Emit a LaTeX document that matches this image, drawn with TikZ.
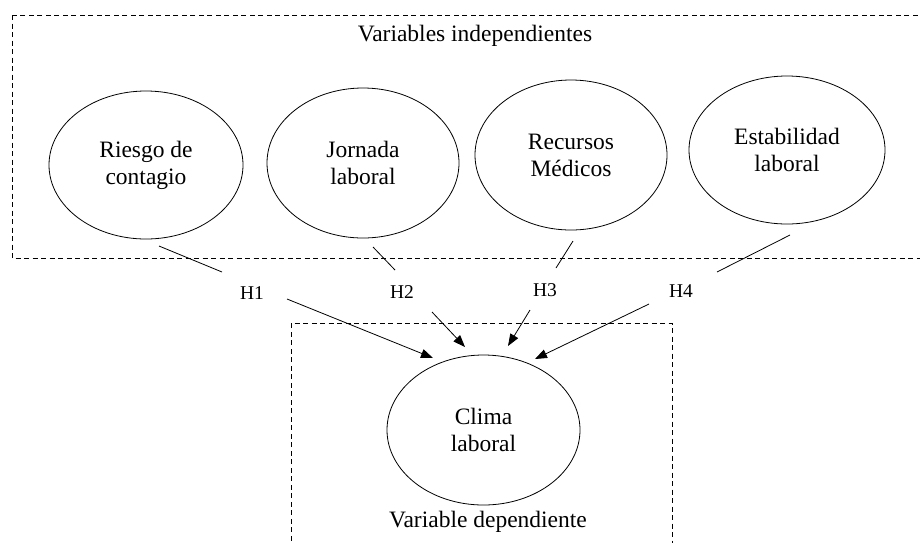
\documentclass[tikz,border=0pt]{standalone}
\usepackage{fontspec}
\setmainfont{Liberation Serif}
\usetikzlibrary{arrows.meta,shapes.geometric}
\begin{document}
\begin{tikzpicture}[x=1pt,y=-1pt,
  var/.style={draw,ellipse,line width=0.8pt,inner sep=0pt,align=center,
    font=\fontsize{23.5}{27}\selectfont},
  dashbox/.style={draw,line width=0.8pt,dash pattern=on 5pt off 3.5pt},
  hlab/.style={font=\fontsize{19.5}{22}\selectfont,inner sep=1pt},
  ttl/.style={font=\fontsize{23.5}{27}\selectfont,inner sep=0pt},
  link/.style={line width=0.8pt},
  arr/.style={line width=0.8pt,-{Triangle[length=12pt,width=9pt]}}]
\useasboundingbox (0,0) rectangle (920,542);
\clip (0,0) rectangle (920,542);
% boxes
\draw[dashbox] (12,15) rectangle (940,258);
\draw[dashbox] (291,600) -- (291,323) -- (672,323) -- (672,600);
\node[ttl] (t1) at (475,36) {Variables independientes};
\node[ttl] (t2) at (488,522) {Variable dependiente};
% ellipses
\node[var,minimum width=194pt,minimum height=148pt] (e1) at (146,165) {Riesgo de\\contagio};
\node[var,minimum width=192pt,minimum height=150pt] (e2) at (363,163) {Jornada\\laboral};
\node[var,minimum width=192pt,minimum height=150pt] (e3) at (571,155) {Recursos\\Médicos};
\node[var,minimum width=196pt,minimum height=148pt] (e4) at (787,150) {Estabilidad\\laboral};
\node[var,minimum width=193pt,minimum height=150pt] (c) at (483.5,430) {Clima\\laboral};
% H labels
\node[hlab] (h1) at (252,293) {H1};
\node[hlab] (h2) at (402,292) {H2};
\node[hlab] (h3) at (545,290) {H3};
\node[hlab] (h4) at (681,291) {H4};
% line ends
\coordinate (a1) at (159,246); \coordinate (b1) at (222,272);
\coordinate (a2) at (373,247); \coordinate (b2) at (395,270);
\coordinate (a3) at (573,241); \coordinate (b3) at (556,268);
\coordinate (a4) at (790,235); \coordinate (b4) at (717,272);
\draw[link] (a1) -- (b1);
\draw[link] (a2) -- (b2);
\draw[link] (a3) -- (b3);
\draw[link] (a4) -- (b4);
% arrows
\coordinate (s1) at (287,299); \coordinate (p1) at (433,358);
\coordinate (s2) at (432,312); \coordinate (p2) at (465,347);
\coordinate (s3) at (530,310); \coordinate (p3) at (508,346);
\coordinate (s4) at (649,304); \coordinate (p4) at (535,359);
\draw[arr] (s1) -- (p1);
\draw[arr] (s2) -- (p2);
\draw[arr] (s3) -- (p3);
\draw[arr] (s4) -- (p4);
\end{tikzpicture}
\end{document}
